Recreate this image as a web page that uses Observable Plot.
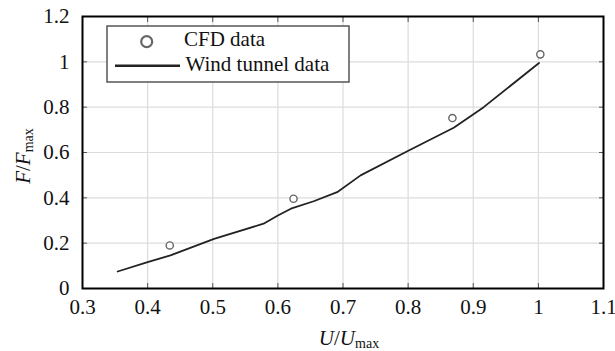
<!DOCTYPE html>
<html>
<head>
<meta charset="utf-8">
<script src="https://cdn.jsdelivr.net/npm/d3@7"></script>
<script src="https://cdn.jsdelivr.net/npm/@observablehq/plot@0.6"></script>
<style>
  html, body { margin: 0; padding: 0; background: #fff; }
  #chart svg { display: block; font-family: "Liberation Serif", "Times New Roman", serif !important; }
  #chart svg text, #chart svg tspan { font-family: "Liberation Serif", "Times New Roman", serif !important; }
</style>
</head>
<body>
<div id="chart"></div>
<script>
// ---- data ----
const xTicks = [0.3, 0.4, 0.5, 0.6, 0.7, 0.8, 0.9, 1.0, 1.1];
const yTicks = [0, 0.2, 0.4, 0.6, 0.8, 1.0, 1.2];

const cfdU = [0.434, 0.624, 0.868, 1.003];
const cfdF = [0.19, 0.396, 0.752, 1.033];

const windU = [0.354, 0.40, 0.435, 0.502, 0.578, 0.600, 0.620, 0.655, 0.691, 0.727, 0.801, 0.870, 0.916, 1.001];
const windF = [0.075, 0.116, 0.146, 0.219, 0.286, 0.322, 0.352, 0.385, 0.425, 0.499, 0.609, 0.709, 0.800, 0.995];

const legendLabels = ["CFD data", "Wind tunnel data"];

const cfd = cfdU.map((u, i) => ({u, f: cfdF[i]}));
const wind = windU.map((u, i) => ({u, f: windF[i]}));

const fmt = d3.format("~g");
const W = 615, H = 351;
const mL = 82, mR = 12, mT = 16, mB = 63;
const serif = "Liberation Serif";

const chart = Plot.plot({
  width: W, height: H,
  marginLeft: mL, marginRight: mR, marginTop: mT, marginBottom: mB,
  style: {fontFamily: serif, fontSize: "21px", background: "#fff", color: "#111", overflow: "visible"},
  x: {domain: [0.3, 1.1], label: null},
  y: {domain: [0, 1.2], label: null},
  marks: [
    Plot.gridX(xTicks, {stroke: "#dcdcdc", strokeOpacity: 1, strokeWidth: 1.2}),
    Plot.gridY(yTicks, {stroke: "#dcdcdc", strokeOpacity: 1, strokeWidth: 1.2}),
    Plot.axisX(xTicks, {anchor: "bottom", tickSize: 0, tickPadding: 11, tickFormat: fmt, label: null, fill: "#111"}),
    Plot.axisY(yTicks, {anchor: "left", tickSize: 0, tickPadding: 13, tickFormat: fmt, label: null, fill: "#111"}),
    Plot.axisX(xTicks, {anchor: "bottom", tickSize: -5, fill: "none", label: null, stroke: "#555"}),
    Plot.axisX(xTicks, {anchor: "top", tickSize: -5, fill: "none", label: null, stroke: "#555"}),
    Plot.axisY(yTicks, {anchor: "left", tickSize: -5, fill: "none", label: null, stroke: "#555"}),
    Plot.axisY(yTicks, {anchor: "right", tickSize: -5, fill: "none", label: null, stroke: "#555"}),
    Plot.line(wind, {x: "u", y: "f", stroke: "#222", strokeWidth: 1.8}),
    Plot.dot(cfd, {x: "u", y: "f", r: 3.6, stroke: "#666", strokeWidth: 1.4, fill: "#fff"}),
    Plot.frame({stroke: "#000", strokeWidth: 2})
  ]
});

document.getElementById("chart").appendChild(chart);

const svg = d3.select(chart);

// x axis label
const xl = svg.append("text")
  .attr("x", 349).attr("y", 345)
  .attr("text-anchor", "middle")
  .attr("font-size", 21).attr("fill", "#111");
xl.append("tspan").attr("font-style", "italic").text("U");
xl.append("tspan").text("/");
xl.append("tspan").attr("font-style", "italic").text("U");
xl.append("tspan").attr("font-size", 14).attr("dy", 3).text("max");

// y axis label
const yl = svg.append("text")
  .attr("transform", "translate(30,156) rotate(-90)")
  .attr("text-anchor", "middle")
  .attr("font-size", 21).attr("fill", "#111");
yl.append("tspan").attr("font-style", "italic").text("F");
yl.append("tspan").text("/");
yl.append("tspan").attr("font-style", "italic").text("F");
yl.append("tspan").attr("font-size", 14).attr("dy", 3).text("max");

// legend
const lg = svg.append("g").attr("text-anchor", "start");
lg.append("rect").attr("x", 107).attr("y", 26).attr("width", 242).attr("height", 56)
  .attr("fill", "#fff").attr("stroke", "#555").attr("stroke-width", 1.5);
lg.append("circle").attr("cx", 146.7).attr("cy", 41.7).attr("r", 5.5)
  .attr("fill", "none").attr("stroke", "#666").attr("stroke-width", 2.2);
lg.append("line").attr("x1", 115).attr("x2", 180).attr("y1", 65.7).attr("y2", 65.7)
  .attr("stroke", "#222").attr("stroke-width", 2.4);
lg.append("text").attr("x", 184).attr("y", 45.5).attr("text-anchor", "start")
  .attr("font-size", 21).attr("fill", "#111").text(legendLabels[0]);
lg.append("text").attr("x", 185.5).attr("y", 70.5).attr("text-anchor", "start")
  .attr("font-size", 21).attr("fill", "#111").text(legendLabels[1]);
</script>
</body>
</html>
